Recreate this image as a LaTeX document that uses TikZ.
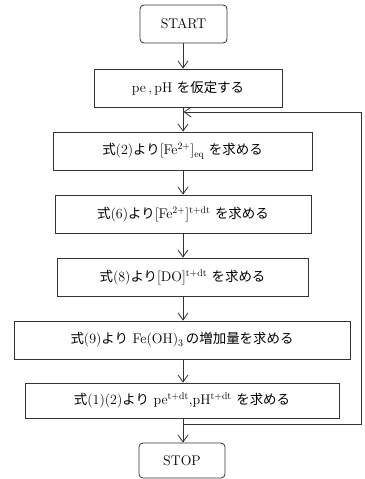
\documentclass[tikz,border=0pt]{standalone}
\usepackage{fontspec}
\newfontfamily\jp{Noto Sans CJK JP}[Scale=0.96]
\usetikzlibrary{arrows.meta}
\newcommand{\J}[1]{{\jp #1}}
\newcommand{\tdt}{\textsuperscript{t+dt}}
\begin{document}
\begin{tikzpicture}[x=1pt,y=-1pt,
  every node/.style={font=\fontsize{14}{16}\selectfont},
  box/.style={draw=black!80, line width=0.8pt, inner sep=0pt, minimum height=38pt},
  term/.style={box, rounded corners=4pt},
  flow/.style={draw=black!80, line width=0.8pt, -{Straight Barb[length=7pt,width=10pt]}},
  line/.style={draw=black!80, line width=0.8pt}]
\useasboundingbox (0,0) rectangle (364,479);
\coordinate (ax) at (183,0);
\node[term, minimum width=87pt] (start) at (183.5,24) {START};
\node[box, minimum width=188pt] (b1) at (188,88) {pe\,,\,pH \J{を仮定する}};
\node[box, minimum width=259pt] (b2) at (182.5,151) {\J{式}(2)\J{より}[Fe\textsuperscript{2+}]$_{\mathrm{eq}}$ \J{を求める}};
\node[box, minimum width=256pt] (b3) at (183,214) {\J{式}(6)\J{より}[Fe\textsuperscript{2+}]\tdt{} \J{を求める}};
\node[box, minimum width=251pt] (b4) at (182.5,277) {\J{式}(8)\J{より}[DO]\tdt{} \J{を求める}};
\node[box, minimum width=336pt] (b5) at (182,340) {\J{式}(9)\J{より} Fe(OH)$_3$\,\J{の増加量を求める}};
\node[box, minimum width=314pt, minimum height=35pt] (b6) at (182,400.5) {\J{式}(1)(2)\J{より} pe\tdt,pH\tdt{} \J{を求める}};
\node[term, minimum width=86pt, minimum height=35pt] (stop) at (182,460.5) {STOP};
\draw[flow] (start.south -| ax) -- (b1.north -| ax);
\draw[flow] (b1.south -| ax) -- (b2.north -| ax);
\draw[flow] (b2.south -| ax) -- (b3.north -| ax);
\draw[flow] (b3.south -| ax) -- (b4.north -| ax);
\draw[flow] (b4.south -| ax) -- (b5.north -| ax);
\draw[flow] (b5.south -| ax) -- (b6.north -| ax);
\draw[flow] (b6.south -| ax) -- (stop.north -| ax);
\coordinate (j) at (183,424);
\coordinate (r1) at (361,424);
\coordinate (r2) at (361,112);
\coordinate (k) at (183.5,112);
\draw[flow] (j) -- (r1) -- (r2) -- (k);
\end{tikzpicture}
\end{document}
